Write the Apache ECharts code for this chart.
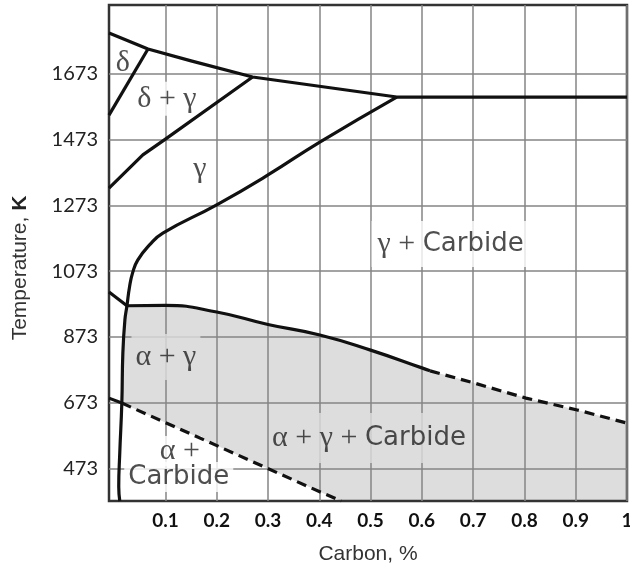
<!DOCTYPE html>
<html>
<head>
<meta charset="utf-8">
<script src="https://cdn.jsdelivr.net/npm/echarts@6/dist/echarts.min.js"></script>
<style>html,body{margin:0;padding:0;background:#fff}#c{width:630px;height:568px}</style>
</head>
<body>
<div id="c"></div>
<script>
// ---- data (carbon %, temperature K) ----
const carbonTicks = [0.1, 0.2, 0.3, 0.4, 0.5, 0.6, 0.7, 0.8, 0.9, 1];
const tempTicks = [473, 673, 873, 1073, 1273, 1473, 1673];
const xMin = -0.01, xMax = 1, yMin = 374, yMax = 1883;

const topBoundary = [[-0.01, 1798], [0.066, 1749], [0.15, 1713], [0.27, 1664], [0.551, 1603], [1.0, 1603]];
const deltaBoundary = [[0.066, 1749], [-0.01, 1548]];
const deltaGammaBoundary = [[0.27, 1664], [0.1, 1475], [0.056, 1427], [-0.01, 1326]];
const gammaBoundary = [[0.551, 1603], [0.401, 1466], [0.30, 1366], [0.2, 1275], [0.095, 1189], [0.069, 1153],
  [0.046, 1107], [0.036, 1068], [0.030, 1025], [0.025, 968], [0.021, 925], [0.017, 824], [0.015, 672],
  [0.011, 520], [0.009, 417], [0.011, 374]];
const upperLeftLine = [[-0.01, 1010], [0.025, 968]];
const alphaGammaTopSolid = [[0.025, 968], [0.1, 969], [0.2, 949], [0.3, 911], [0.401, 879], [0.5, 833], [0.6, 779], [0.616, 770]];
const alphaGammaTopDashed = [[0.616, 770], [0.702, 733], [0.803, 687], [0.903, 651], [1.0, 611]];
const lowerLeftLine = [[-0.01, 687], [0.015, 672]];
const carbideDashed = [[0.015, 672], [0.401, 402], [0.443, 374]];

const regionNames = ['δ', 'δ + γ', 'γ', 'γ + Carbide', 'α + γ', 'α +', 'Carbide', 'α + γ + Carbide'];
const regionAnchors = [[0.017, 1705], [0.103, 1598], [0.167, 1385], [0.656, 1156], [0.101, 812], [0.128, 526], [0.126, 447], [0.497, 566]];

// ---- build ----
const gray = '#dddddd';
const labelBg = ['transparent', '#fff', 'transparent', '#fff', gray, '#fff', '#fff', gray];
const labelPad = [[0, 0], [2, 4], [0, 0], [8, 6], [8, 4], [0, 2], [0, 4], [10, 3]];

function richFor(name) {
  return name.split(/(Carbide)/).filter(s => s).map(s => s === 'Carbide' ? '{c|Carbide}' : '{g|' + s + '}').join('');
}

const shade = [].concat(
  alphaGammaTopSolid,
  alphaGammaTopDashed.slice(1),
  [[xMax, yMin]],
  carbideDashed.slice().reverse(),
  gammaBoundary.filter(p => p[1] > 672 && p[1] < 968).reverse()
);

function lineSeries(data, dashed, smooth) {
  return {
    type: 'line', data: data, showSymbol: false, smooth: smooth || false, z: 3,
    lineStyle: { color: '#111', width: 3.2, type: dashed ? [10, 6] : 'solid', cap: 'butt', join: 'round' },
    silent: true
  };
}

const chart = echarts.init(document.getElementById('c'), null, { renderer: 'canvas' });
chart.setOption({
  animation: false,
  grid: { left: 109, right: 3, top: 5, bottom: 67, containLabel: false, outerBoundsMode: 'none',
    show: true, borderColor: '#333', borderWidth: 2.5, backgroundColor: 'transparent' },
  xAxis: {
    type: 'value', min: xMin, max: xMax,
    name: 'Carbon, %', nameLocation: 'middle', nameGap: 43,
    nameTextStyle: { fontFamily: 'Liberation Sans', fontSize: 21, color: '#333' },
    axisLine: { show: false }, axisTick: { show: false, customValues: carbonTicks },
    axisLabel: { customValues: carbonTicks, formatter: v => String(v), fontFamily: 'Lato', fontWeight: 'bold', fontSize: 19, color: '#111', margin: 10 },
    splitLine: { show: true, lineStyle: { color: '#858585', width: 1.5 } }
  },
  yAxis: {
    type: 'value', min: yMin, max: yMax,
    name: '{t|Temperature, }{k|K}', nameLocation: 'middle', nameGap: 78,
    nameTextStyle: { padding: [0, 30, 0, 0], rich: {
      t: { fontFamily: 'Liberation Sans', fontSize: 21, color: '#333' },
      k: { fontFamily: 'Liberation Sans', fontSize: 21, fontWeight: 'bold', color: '#222' } } },
    axisLine: { show: false }, axisTick: { show: false, customValues: tempTicks },
    axisLabel: { customValues: tempTicks, formatter: v => String(v), fontFamily: 'Lato', fontSize: 20, color: '#222', margin: 11 },
    splitLine: { show: true, lineStyle: { color: '#858585', width: 1.5 } }
  },
  series: [
    {
      type: 'custom', z: -1, silent: true, data: [0],
      renderItem: function (params, api) {
        return { type: 'polygon', shape: { points: shade.map(p => api.coord(p)) }, style: { fill: gray } };
      }
    },
    lineSeries(topBoundary),
    lineSeries(deltaBoundary),
    lineSeries(deltaGammaBoundary),
    lineSeries(gammaBoundary, false, 0.5),
    lineSeries(upperLeftLine),
    lineSeries(alphaGammaTopSolid, false, 0.5),
    lineSeries(alphaGammaTopDashed, true),
    lineSeries(lowerLeftLine),
    lineSeries(carbideDashed, true),
    {
      type: 'scatter', z: 1, silent: true, symbolSize: 1, itemStyle: { color: 'rgba(0,0,0,0)' },
      data: regionNames.map((n, i) => ({
        name: n, value: regionAnchors[i],
        label: { backgroundColor: labelBg[i], padding: labelPad[i] }
      })),
      label: {
        show: true, position: 'inside', align: 'center', verticalAlign: 'middle',
        formatter: p => richFor(p.name),
        rich: {
          g: { fontFamily: 'Liberation Serif', fontSize: 30, color: '#222', lineHeight: 30 },
          c: { fontFamily: 'DejaVu Sans', fontSize: 26, color: '#222', lineHeight: 30 }
        }
      }
    }
  ]
});
</script>
</body>
</html>
